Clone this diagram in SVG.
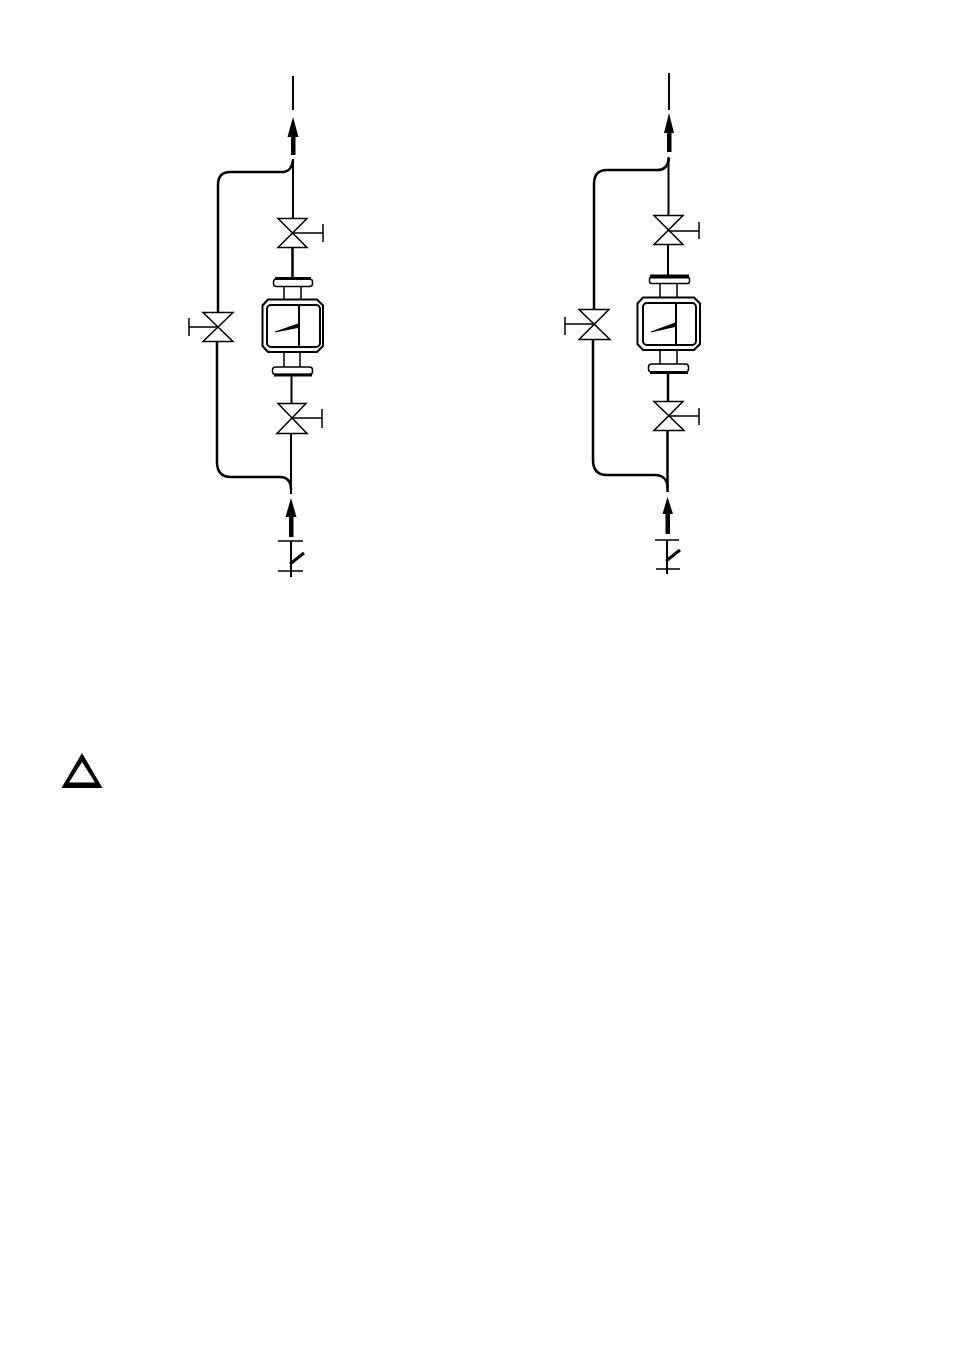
<svg xmlns="http://www.w3.org/2000/svg" width="954" height="1352" viewBox="0 0 954 1352">
<style>
.l{fill:none;stroke:#000;stroke-width:2}
.v{fill:none;stroke:#000;stroke-width:1.500}
.t{fill:none;stroke:#000;stroke-width:1.500}
.b{fill:none;stroke:#000;stroke-width:2.500}
.h{fill:none;stroke:#000;stroke-width:3}
.f{fill:#000;stroke:none}
.w{fill:#fff;stroke:#000;stroke-width:1.500}
</style>
<rect width="954" height="1352" fill="#fff"/>
<g id="connectors-left">
<path class="l" d="M293 76V110"/>
<path class="l" d="M293 159V218"/>
<path class="b" d="M293 160C292 168 289 172 281 172H230C222 172 218 176 218 185V312"/>
<path class="b" d="M292.500 248V278"/>
<path class="l" d="M291.500 375V403"/>
<path class="l" d="M291 434V494"/>
<path class="b" d="M217 342V462C217 472 222 477 231 477H280C287 477 291 481 291 490"/>
<path class="l" d="M291 541V577"/>
</g>
<g id="connectors-right">
<path class="l" d="M669 73V110"/>
<path class="l" d="M668.500 157V215"/>
<path class="b" d="M669 158C668 166 665 170 658 170H607C598 170 594 175 594 184V309"/>
<path class="l" d="M668 245V275"/>
<path class="b" d="M668 373V401"/>
<path class="b" d="M667.500 431V492"/>
<path class="b" d="M593 340V460C593 470 598 475 607 475H655C663 475 667.500 480 667.500 488"/>
<path class="l" d="M667 540V574"/>
</g>
<g id="arrow-top-left"><path class="f" d="M293 117L298.500 137H295.500V155H291V137H287.500Z"/></g>
<g id="arrow-bottom-left"><path class="f" d="M291 498L296.500 517H293.500V537H289V517H285.500Z"/></g>
<g id="arrow-top-right"><path class="f" d="M669 113L674 133H671.500V152H667V133H664Z"/></g>
<g id="arrow-bottom-right"><path class="f" d="M667.500 497L673 514H670V534H665.500V514H662.500Z"/></g>
<g id="valve-top-left"><path class="v" d="M278 218.500H307L278 247.500H307Z"/><path class="t" d="M293 233H323M323 224V242"/></g>
<g id="valve-bottom-left"><path class="v" d="M278 403.500H306L277 433.500H307Z"/><path class="t" d="M292 418H322M322 409V428"/></g>
<g id="valve-bypass-left"><path class="v" d="M203 312.500H233L203 341.500H233Z"/><path class="t" d="M218 327H189M189 318V336"/></g>
<g id="valve-top-right"><path class="v" d="M654 215.500H683L654 244.500H683Z"/><path class="t" d="M669 231H699M699 222V239"/></g>
<g id="valve-bottom-right"><path class="v" d="M654 401.500H683L654 430.500H684Z"/><path class="t" d="M668 416H699M699 408V425"/></g>
<g id="valve-bypass-right"><path class="v" d="M579 309.500H609L579 339.500H610Z"/><path class="t" d="M594 324H565M565 317V335"/></g>
<g id="meter-left">
<path class="v" d="M284 286V300M301 286V300M284 352V367M300 352V367"/>
<rect class="w" x="273.500" y="279" width="39" height="7.500" rx="3"/>
<path class="h" d="M275 278.500H311"/>
<rect class="w" x="272.500" y="367" width="40" height="7.500" rx="3"/>
<path class="h" d="M274 375H312"/>
<path class="l" d="M268 299.500H317L323 305.500V346L317 352H268L262.500 346V305.500Z"/>
<rect class="l" x="267" y="305" width="53" height="42" rx="4"/>
<path class="l" d="M299 305V347"/>
<path class="f" d="M275 331.500L298 323.500V328L275 332.500Z"/>
</g>
<g id="meter-right">
<path class="v" d="M660 283V298M677 283V298M660 350V364M677 350V364"/>
<rect class="w" x="649.500" y="277" width="40" height="6.500" rx="2"/>
<path class="h" d="M650 276.500H689" style="stroke-width:4"/>
<rect class="w" x="648.500" y="364" width="40" height="8" rx="3"/>
<path class="h" d="M650 372.500H688"/>
<path class="l" d="M643 297.500H694L700 303.500V344L694 350H643L637.500 344V303.500Z"/>
<rect class="l" x="643" y="303" width="53" height="42" rx="4"/>
<path class="l" d="M676 303V345"/>
<path class="f" d="M651 331.500L675 322.500V327L651 332.500Z"/>
</g>
<g id="check-left"><path class="t" d="M278 541H303M278 571H303"/><path class="h" d="M290 564L304 553"/></g>
<g id="check-right"><path class="t" d="M655 540H679M656 569H680"/><path class="h" d="M666 561L680 550"/></g>
<g id="warning"><path class="f" fill-rule="evenodd" d="M82 753L102.500 788H61.500ZM82 762L69 782.500H95Z"/></g>
</svg>
